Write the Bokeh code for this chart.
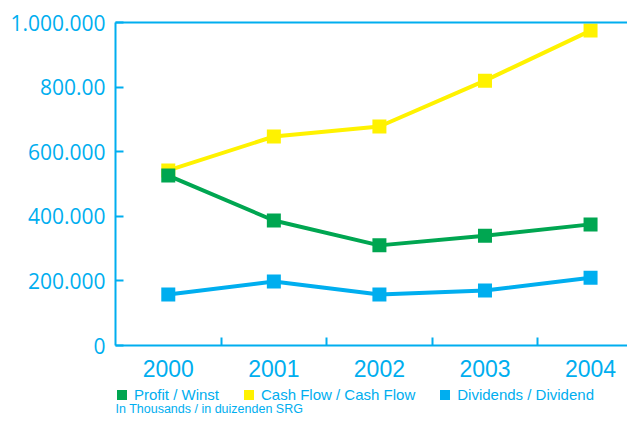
from bokeh.plotting import figure
from bokeh.layouts import column
from bokeh.models import (FixedTicker, LinearAxis, Legend, LegendItem, Label,
                          Range1d, ColumnDataSource)
from bokeh.embed import file_html
from bokeh.resources import INLINE

years = ["2000", "2001", "2002", "2003", "2004"]
profit = [526000, 387000, 310000, 340000, 375000]
cash_flow = [542000, 647000, 678000, 820000, 975000]
dividends = [158000, 198000, 158000, 170000, 210000]
y_ticks = [0, 200000, 400000, 600000, 800000, 1000000]
y_tick_labels = ["0", "200.000", "400.000", "600.000", "800.00", "1.000.000"]
series_names = ["Profit / Winst", "Cash Flow / Cash Flow", "Dividends / Dividend"]
subtitle = "In Thousands / in duizenden SRG"

CYAN = "#00AEEF"
GREEN = "#00A651"
YELLOW = "#FFF200"

xs = list(range(len(years)))
source = ColumnDataSource(dict(x=xs, profit=profit, cash=cash_flow, div=dividends))

p = figure(width=627, height=386, x_range=Range1d(-0.5, 4.35), y_range=Range1d(0, 1000000),
           min_border_left=115, min_border_right=0, min_border_top=22, min_border_bottom=41,
           output_backend="svg", toolbar_location=None)
p.grid.visible = False
p.outline_line_color = None

# Y axis
ya = p.yaxis[0]
ya.ticker = FixedTicker(ticks=y_ticks)
ya.major_label_overrides = {t: l for t, l in zip(y_ticks, y_tick_labels)}
ya.axis_line_color = CYAN
ya.axis_line_width = 2
ya.major_tick_line_color = CYAN
ya.major_tick_line_width = 2
ya.major_tick_in = 8
ya.major_tick_out = 0
ya.minor_tick_line_color = None
ya.major_label_text_color = CYAN
ya.major_label_text_font = "Open Sans"
ya.major_label_text_font_size = "21px"
ya.major_label_standoff = 10

# X axis
xa = p.xaxis[0]
xa.ticker = FixedTicker(ticks=xs, minor_ticks=[i + 0.5 for i in xs[:-1]])
xa.major_label_overrides = {i: y for i, y in zip(xs, years)}
xa.axis_line_color = CYAN
xa.axis_line_width = 2
xa.major_tick_line_color = None
xa.major_tick_in = 0
xa.major_tick_out = 0
xa.minor_tick_line_color = CYAN
xa.minor_tick_line_width = 2
xa.minor_tick_in = 8
xa.minor_tick_out = 0
xa.major_label_text_color = CYAN
xa.major_label_text_font = "Liberation Sans"
xa.major_label_text_font_size = "23px"
xa.major_label_standoff = 14

# Top line
top = LinearAxis(ticker=FixedTicker(ticks=[]), axis_line_color=CYAN, axis_line_width=2,
                 major_label_text_font_size="0px", major_tick_line_color=None,
                 minor_tick_line_color=None)
p.add_layout(top, "above")

# Series (yellow, green, blue draw order)
p.line("x", "cash", source=source, line_color=YELLOW, line_width=4)
p.scatter("x", "cash", source=source, marker="square", size=14, fill_color=YELLOW, line_color=None)
p.line("x", "profit", source=source, line_color=GREEN, line_width=4)
p.scatter("x", "profit", source=source, marker="square", size=14, fill_color=GREEN, line_color=None)
p.line("x", "div", source=source, line_color=CYAN, line_width=4)
p.scatter("x", "div", source=source, marker="square", size=14, fill_color=CYAN, line_color=None)

# Legend strip below the chart
p2 = figure(width=627, height=28, x_range=Range1d(0, 1), y_range=Range1d(0, 1),
            x_axis_type=None, y_axis_type=None, min_border=0,
            output_backend="svg", toolbar_location=None)
p2.grid.visible = False
p2.outline_line_color = None
items = []
for name, col in zip(series_names, [GREEN, YELLOW, CYAN]):
    r = p2.scatter(x=[0.5], y=[0.5], marker="square", size=10, fill_color=col, line_color=None)
    r.visible = False
    items.append(LegendItem(label=name, renderers=[r]))
legend = Legend(items=items, orientation="horizontal", location=(-6, 7), padding=0, margin=0,
                spacing=17, label_standoff=0, glyph_width=25, glyph_height=25,
                border_line_color=None, background_fill_alpha=0,
                inactive_fill_alpha=0,
                label_text_color=CYAN, label_text_font="Liberation Sans",
                label_text_font_size="15px", label_height=20)
p2.add_layout(legend)
p2.add_layout(Label(x=0, y=6, x_units="screen", y_units="screen", text=subtitle,
                    text_color=CYAN, text_font="Liberation Sans", text_font_size="12.5px",
                    text_baseline="middle"))

open("out.html", "w").write(file_html(column(p, p2, spacing=0), INLINE))
